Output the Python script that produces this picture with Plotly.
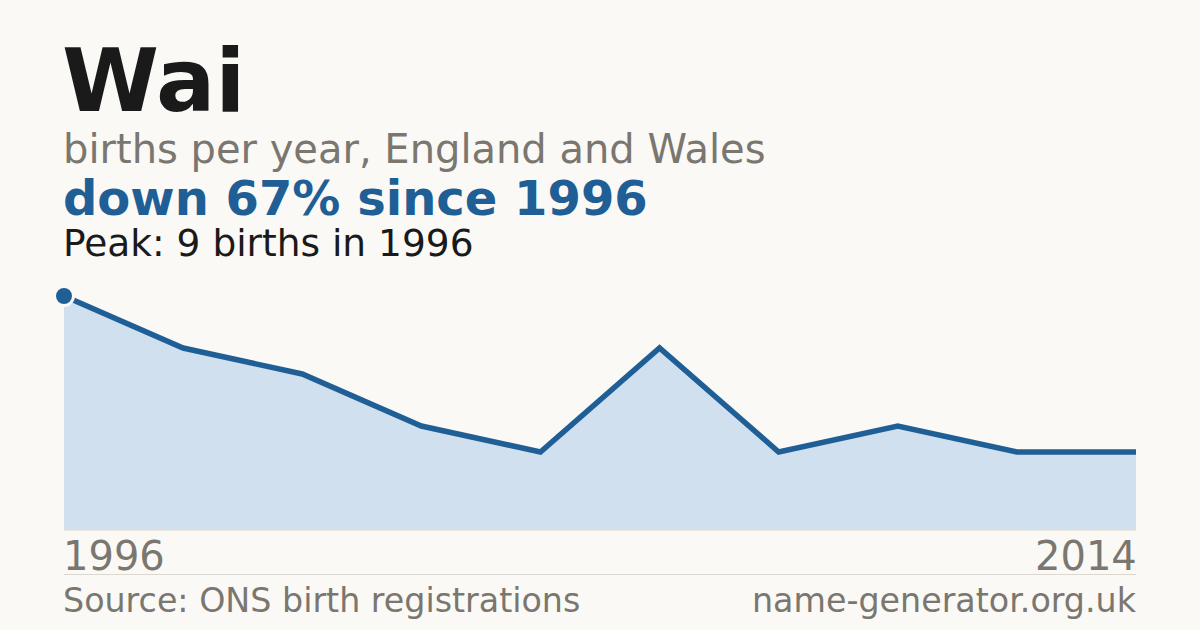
import plotly.graph_objects as go

# births per year for the name, every second year
years = [1996, 1998, 2000, 2002, 2004, 2006, 2008, 2010, 2012, 2014]
births = [9, 7, 6, 4, 3, 7, 3, 4, 3, 3]

name = 'Wai'
subtitle = 'births per year, England and Wales'
headline = 'down 67% since 1996'
peak_note = 'Peak: 9 births in 1996'
source = 'Source: ONS birth registrations'
site = 'name-generator.org.uk'

W, H = 1200, 630
BG = '#faf9f5'
BLUE = '#1f5f96'
GREY = '#7a7670'
FONT = 'DejaVu Sans'


def px_y(p):
    return 1 - p / H


def px_x(p):
    return p / W


def main():
    fig = go.Figure()

    fig.add_trace(go.Scatter(
        x=years, y=births, mode='lines',
        line=dict(color=BLUE, width=5.5),
        fill='tozeroy', fillcolor='#d0e0ef',
        hoverinfo='skip',
    ))
    # peak marker
    fig.add_trace(go.Scatter(
        x=[years[0]], y=[births[0]], mode='markers',
        marker=dict(color=BLUE, size=19, line=dict(color=BG, width=3)),
        cliponaxis=False, hoverinfo='skip',
    ))

    fig.update_layout(
        width=W, height=H,
        paper_bgcolor=BG, plot_bgcolor=BG,
        margin=dict(l=0, r=0, t=0, b=0),
        showlegend=False,
        xaxis=dict(range=[years[0], years[-1]], domain=[px_x(64), px_x(1136)],
                   visible=False, fixedrange=True),
        yaxis=dict(range=[0, max(births)], domain=[px_y(530), px_y(296)],
                   visible=False, fixedrange=True),
    )

    def note(text, x, y, size, color, bold=False, xanchor='left'):
        fig.add_annotation(
            text=f'<b>{text}</b>' if bold else text,
            x=px_x(x), y=px_y(y), xref='paper', yref='paper',
            xanchor=xanchor, yanchor='middle', showarrow=False,
            font=dict(family=FONT, size=size, color=color),
        )

    note(name, 60, 80, 88, '#1a1a1a', bold=True)
    note(subtitle, 61, 149, 40, GREY)
    note(headline, 61, 198, 48, BLUE, bold=True)
    note(peak_note, 61, 243, 37.5, '#1a1a1a')
    note(str(years[0]), 61, 556, 40, GREY)
    note(str(years[-1]), 1139, 556, 40, GREY, xanchor='right')
    note(source, 61, 600, 33.3, GREY)
    note(site, 1139, 600, 33.3, GREY, xanchor='right')

    # baseline and footer rule
    fig.add_shape(type='line', xref='paper', yref='paper',
                  x0=px_x(64), x1=px_x(1136), y0=px_y(530.5), y1=px_y(530.5),
                  line=dict(color='#ece6dc', width=1))
    fig.add_shape(type='line', xref='paper', yref='paper',
                  x0=px_x(64), x1=px_x(1136), y0=px_y(574.5), y1=px_y(574.5),
                  line=dict(color='#dcd8d0', width=1))

    # drop the default page margin so the figure fills the window
    fig.write_html('out.html', config={'displayModeBar': False}, post_script=(
        "document.body.style.margin='0';"
        "document.body.style.background='%s';" % BG))


if __name__ == '__main__':
    main()
